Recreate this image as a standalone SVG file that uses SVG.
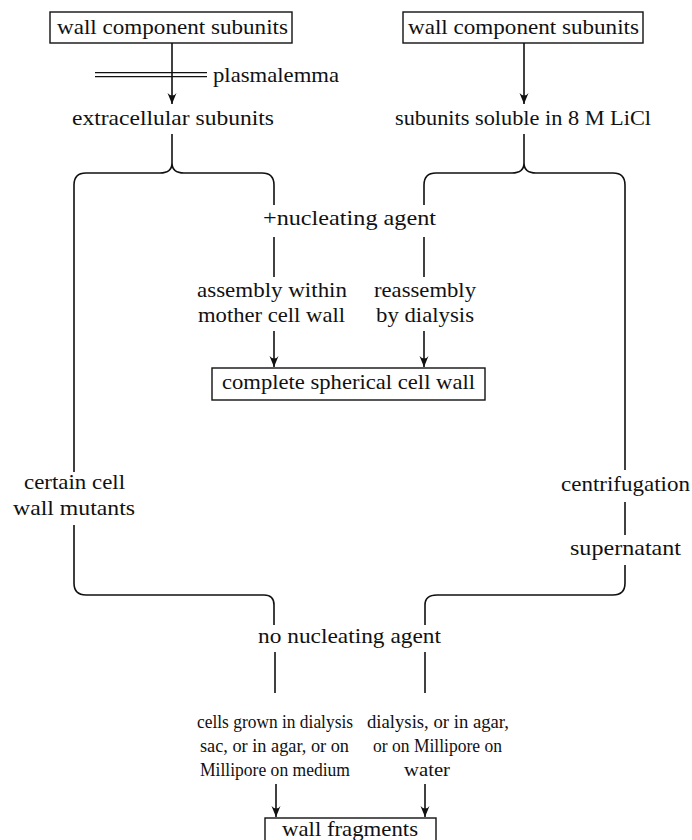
<svg xmlns="http://www.w3.org/2000/svg" width="692" height="840" viewBox="0 0 692 840">
<style>
  text { font-family: "Liberation Serif", "Times New Roman", serif; font-size: 21px; fill: #111; }
  text.sm { font-size: 19px; }
  .c { text-anchor: middle; }
  .box { fill: #fff; stroke: #111; stroke-width: 1.4; }
  .ln { fill: none; stroke: #111; stroke-width: 1.6; }
  .arr { fill: none; stroke: #111; stroke-width: 1.6; marker-end: url(#ah); }
</style>
<defs>
  <marker id="ah" markerUnits="userSpaceOnUse" markerWidth="14" markerHeight="12" viewBox="-12 -6 14 12" refX="0" refY="0" orient="auto">
    <path d="M0,0 L-11,-4.5 Q-6,-0.5 -11,4.5 Z" fill="#111"/>
  </marker>
</defs>
<rect width="692" height="840" fill="#fff"/>

<g id="connectors">
  <path class="arr" d="M172 43 V104"/>
  <path class="arr" d="M524 43 V104"/>
  <line class="ln" x1="95" y1="72.7" x2="207" y2="72.7" style="stroke-width:1.3"/>
  <line class="ln" x1="95" y1="76.7" x2="207" y2="76.7" style="stroke-width:1.3"/>
  <path class="ln" d="M172 134 V163"/>
  <path class="ln" d="M524 134 V163"/>
  <path class="ln" d="M74 472 V185 Q74 173 86 173 H160 Q172 173 172 163 Q172 173 184 173 H262 Q274 173 274 185 V205"/>
  <path class="ln" d="M424 205 V185 Q424 173 436 173 H512 Q524 173 524 163 Q524 173 536 173 H613 Q625 173 625 185 V470"/>
  <path class="ln" d="M274 237 V277"/>
  <path class="ln" d="M424 237 V277"/>
  <path class="arr" d="M274 331 V367"/>
  <path class="arr" d="M424 331 V367"/>
  <path class="ln" d="M74 525 V583 Q74 595 86 595 H264 Q274 595 274 605 V625"/>
  <path class="ln" d="M625 502 V535"/>
  <path class="ln" d="M625 565 V583 Q625 595 613 595 H437 Q425 595 425 605 V625"/>
  <path class="ln" d="M275 652 V693"/>
  <path class="ln" d="M425 652 V693"/>
  <path class="arr" d="M276 784 V817"/>
  <path class="arr" d="M425 784 V817"/>
</g>

<g id="n1"><rect class="box" x="50" y="12" width="242" height="31"/><text x="57" y="34" textLength="231" lengthAdjust="spacingAndGlyphs">wall component subunits</text></g>
<g id="n2"><rect class="box" x="403" y="12" width="240" height="31"/><text x="408" y="34" textLength="231" lengthAdjust="spacingAndGlyphs">wall component subunits</text></g>
<g id="n3"><text x="213" y="82" textLength="126" lengthAdjust="spacingAndGlyphs">plasmalemma</text></g>
<g id="n4"><text x="72" y="125" textLength="202" lengthAdjust="spacingAndGlyphs">extracellular subunits</text></g>
<g id="n5"><text x="395" y="125" textLength="256" lengthAdjust="spacingAndGlyphs">subunits soluble in 8 M LiCl</text></g>
<g id="n6"><text x="263" y="225" textLength="173" lengthAdjust="spacingAndGlyphs">+nucleating agent</text></g>
<g id="n7"><text x="197" y="297" textLength="150" lengthAdjust="spacingAndGlyphs">assembly within</text><text x="198" y="322" textLength="147" lengthAdjust="spacingAndGlyphs">mother cell wall</text></g>
<g id="n8"><text x="374" y="297" textLength="102" lengthAdjust="spacingAndGlyphs">reassembly</text><text x="376" y="322" textLength="98" lengthAdjust="spacingAndGlyphs">by dialysis</text></g>
<g id="n9"><rect class="box" x="212" y="368" width="273" height="32"/><text x="222" y="389" textLength="253" lengthAdjust="spacingAndGlyphs">complete spherical cell wall</text></g>
<g id="n10"><text x="24" y="489" textLength="101" lengthAdjust="spacingAndGlyphs">certain cell</text><text x="13" y="515" textLength="122" lengthAdjust="spacingAndGlyphs">wall mutants</text></g>
<g id="n11"><text x="561" y="491" textLength="129" lengthAdjust="spacingAndGlyphs">centrifugation</text></g>
<g id="n12"><text x="570" y="555" textLength="111" lengthAdjust="spacingAndGlyphs">supernatant</text></g>
<g id="n13"><text x="258" y="643" textLength="183" lengthAdjust="spacingAndGlyphs">no nucleating agent</text></g>
<g id="n14">
  <text class="sm" x="197" y="728" textLength="156" lengthAdjust="spacingAndGlyphs">cells grown in dialysis</text>
  <text class="sm" x="200" y="752" textLength="149" lengthAdjust="spacingAndGlyphs">sac, or in agar, or on</text>
  <text class="sm" x="200" y="776" textLength="150" lengthAdjust="spacingAndGlyphs">Millipore on medium</text>
</g>
<g id="n15">
  <text class="sm" x="367" y="728" textLength="142" lengthAdjust="spacingAndGlyphs">dialysis, or in agar,</text>
  <text class="sm" x="373" y="752" textLength="129" lengthAdjust="spacingAndGlyphs">or on Millipore on</text>
  <text class="sm" x="404" y="776" textLength="46" lengthAdjust="spacingAndGlyphs">water</text>
</g>
<g id="n16"><rect class="box" x="265" y="818" width="171" height="40"/><text x="282" y="836" textLength="136" lengthAdjust="spacingAndGlyphs">wall fragments</text></g>
</svg>
